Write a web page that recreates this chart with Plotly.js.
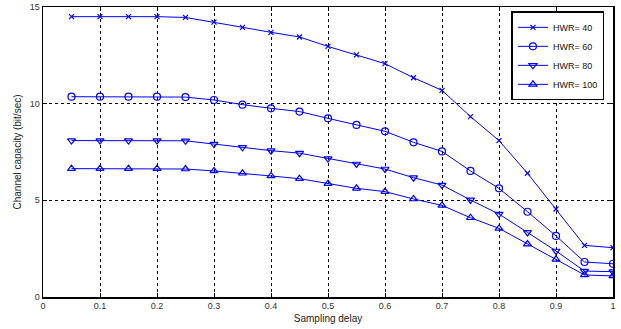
<!DOCTYPE html>
<html>
<head>
<meta charset="utf-8">
<script src="https://cdn.plot.ly/plotly-3.0.1.min.js"></script>
<style>html,body{margin:0;padding:0;background:#fff}#chart{width:621px;height:329px}</style>
</head>
<body>
<div id="chart"></div>
<script>
const samplingDelay = [0.05,0.1,0.15,0.2,0.25,0.3,0.35,0.4,0.45,0.5,0.55,0.6,0.65,0.7,0.75,0.8,0.85,0.9,0.95,1.0];
const hwr40  = [14.5,14.5,14.5,14.5,14.46,14.22,13.95,13.69,13.45,12.96,12.52,12.07,11.34,10.69,9.33,8.09,6.40,4.55,2.67,2.55];
const hwr60  = [10.36,10.36,10.36,10.36,10.34,10.19,9.95,9.76,9.59,9.24,8.90,8.57,8.00,7.53,6.52,5.62,4.41,3.16,1.81,1.72];
const hwr80  = [8.09,8.09,8.09,8.09,8.08,7.91,7.74,7.57,7.44,7.16,6.88,6.62,6.17,5.79,5.02,4.29,3.34,2.38,1.34,1.31];
const hwr100 = [6.64,6.64,6.64,6.64,6.62,6.52,6.40,6.26,6.12,5.86,5.62,5.45,5.07,4.74,4.10,3.55,2.74,1.95,1.14,1.09];
const seriesNames = ['HWR= 40','HWR= 60','HWR= 80','HWR= 100'];
const seriesData = [hwr40, hwr60, hwr80, hwr100];
const symbols = ['x-thin-open','circle-open','triangle-down-open','triangle-up-open'];
const sizes = [5,7,7,7];
const xTicks = [0,0.1,0.2,0.3,0.4,0.5,0.6,0.7,0.8,0.9,1];
const xTickText = ['0','0.1','0.2','0.3','0.4','0.5','0.6','0.7','0.8','0.9','1'];
const yTicks = [0,5,10,15];

const traces = seriesData.map((ys,i)=>({
  x: samplingDelay, y: ys, name: seriesNames[i], type:'scatter', mode:'lines+markers',
  line:{color:'#0000ff', width:1},
  marker:{symbol:symbols[i], size:sizes[i], color:'#0000ff', line:{color:'#0000ff', width:1.2}}
}));

const axisCommon = {
  showline:true, linecolor:'#000', linewidth:1.5, mirror:'ticks',
  ticks:'inside', ticklen:4, tickcolor:'#000',
  showgrid:true, gridcolor:'#000', gridwidth:1, griddash:'3px,3px',
  zeroline:false, tickfont:{family:'Liberation Sans, Arial, sans-serif', size:9, color:'#333'}
};

const layout = {
  width:621, height:329,
  margin:{l:43, r:8, t:7, b:32},
  paper_bgcolor:'#fff', plot_bgcolor:'#fff',
  showlegend:true,
  font:{family:'Liberation Sans, Arial, sans-serif', size:10, color:'#222'},
  xaxis:Object.assign({}, axisCommon, {
    range:[0,1], tickmode:'array', tickvals:xTicks, ticktext:xTickText,
    title:{text:'Sampling delay', font:{size:10, color:'#222'}, standoff:4}
  }),
  yaxis:Object.assign({}, axisCommon, {
    range:[0,15], tickmode:'array', tickvals:yTicks,
    title:{text:'Channel capacity (bit/sec)', font:{size:10, color:'#222'}, standoff:6}
  }),
  legend:{
    x:0.985, y:0.985, xanchor:'right', yanchor:'top',
    bgcolor:'#fff', bordercolor:'#000', borderwidth:1.5,
    font:{size:9, color:'#111'}, tracegroupgap:0, itemwidth:30
  }
};

Plotly.newPlot('chart', traces, layout, {displayModeBar:false, staticPlot:true});
</script>
</body>
</html>
